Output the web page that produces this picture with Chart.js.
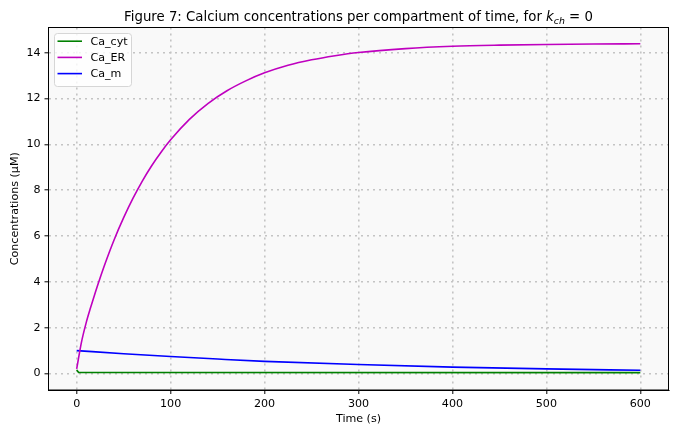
<!DOCTYPE html>
<html>
<head>
<meta charset="utf-8">
<script src="https://cdn.jsdelivr.net/npm/chart.js@4.4.1/dist/chart.umd.min.js"></script>
<style>
  html, body { margin: 0; padding: 0; background: #fff; }
</style>
</head>
<body>
<canvas id="chart" width="679" height="430"></canvas>
<script>
// values
const erTimes = [0, 5, 10, 15, 20, 25, 30, 40, 50, 60, 70, 80, 90, 100, 120, 140, 160, 180, 200, 225, 250, 275, 300, 350, 400, 450, 500, 550, 600];
const caER = [0.2, 1.35, 2.2, 2.9, 3.56, 4.18, 4.77, 5.85, 6.8, 7.65, 8.41, 9.08, 9.67, 10.2, 11.09, 11.79, 12.34, 12.77, 13.12, 13.45, 13.69, 13.87, 14.01, 14.18, 14.28, 14.33, 14.36, 14.38, 14.39];

const mTimes = [0, 50, 100, 150, 200, 300, 400, 500, 600];
const caM = [1.0, 0.86, 0.74, 0.63, 0.53, 0.39, 0.28, 0.2, 0.14];

const cytTimes = [0, 2, 600];
const caCyt = [0.15, 0.05, 0.04];

const xTicks = [0, 100, 200, 300, 400, 500, 600];
const yTicks = [0, 2, 4, 6, 8, 10, 12, 14];

const FONT = "'DejaVu Sans'";

const toPoints = (xs, ys) => xs.map((x, i) => ({x: x, y: ys[i]}));

// plot area background + frame, title with subscript, legend inside the axes
const figurePlugin = {
    id: 'figure',
    beforeDraw(chart) {
        const {ctx, chartArea: a} = chart;
        ctx.save();
        ctx.fillStyle = '#ffffff';
        ctx.fillRect(0, 0, chart.width, chart.height);
        ctx.fillStyle = '#f9f9f9';
        ctx.fillRect(a.left, a.top, a.right - a.left, a.bottom - a.top);
        ctx.restore();
    },
    afterDraw(chart) {
        const {ctx, chartArea: a} = chart;
        ctx.save();

        // frame
        ctx.strokeStyle = '#000';
        ctx.lineWidth = 1;
        ctx.strokeRect(a.left, a.top, a.right - a.left, a.bottom - a.top);

        // title
        const parts = [
            {t: 'Figure 7: Calcium concentrations per compartment of time, for ', f: '13.3px ' + FONT, dy: 0},
            {t: 'k', f: 'italic 13.3px ' + FONT, dy: 0},
            {t: 'ch', f: 'italic 9.4px ' + FONT, dy: 2.5},
            {t: ' = 0', f: '13.3px ' + FONT, dy: 0}
        ];
        let total = 0;
        parts.forEach(p => { ctx.font = p.f; p.w = ctx.measureText(p.t).width; total += p.w; });
        let x = (a.left + a.right) / 2 - total / 2;
        ctx.fillStyle = '#000';
        ctx.textBaseline = 'alphabetic';
        ctx.textAlign = 'left';
        parts.forEach(p => { ctx.font = p.f; ctx.fillText(p.t, x, 21 + p.dy); x += p.w; });

        // legend
        const bx = a.left + 6, by = a.top + 6, bw = 77, bh = 53;
        ctx.beginPath();
        ctx.roundRect(bx, by, bw, bh, 3);
        ctx.fillStyle = 'rgba(255,255,255,0.8)';
        ctx.fill();
        ctx.strokeStyle = '#d6d6d6';
        ctx.lineWidth = 1;
        ctx.stroke();
        ctx.font = '11.1px ' + FONT;
        ctx.textBaseline = 'middle';
        chart.data.datasets.forEach((ds, i) => {
            const cy = by + 7.7 + i * 16.2;
            ctx.strokeStyle = ds.borderColor;
            ctx.lineWidth = 1.6;
            ctx.beginPath();
            ctx.moveTo(bx + 3, cy);
            ctx.lineTo(bx + 27.5, cy);
            ctx.stroke();
            ctx.fillStyle = '#000';
            ctx.fillText(ds.label, bx + 36, cy + 0.5);
        });
        ctx.restore();
    }
};

const ctx = document.getElementById('chart').getContext('2d');
new Chart(ctx, {
    type: 'line',
    data: {
        datasets: [
            {label: 'Ca_cyt', data: toPoints(cytTimes, caCyt), borderColor: '#008000', backgroundColor: '#008000'},
            {label: 'Ca_ER', data: toPoints(erTimes, caER), borderColor: '#bf00bf', backgroundColor: '#bf00bf', cubicInterpolationMode: 'monotone'},
            {label: 'Ca_m', data: toPoints(mTimes, caM), borderColor: '#0000ff', backgroundColor: '#0000ff', cubicInterpolationMode: 'monotone'}
        ]
    },
    options: {
        responsive: false,
        animation: false,
        devicePixelRatio: 1,
        layout: {padding: {top: 27.5, right: 10.5, left: 0, bottom: 0}},
        elements: {
            point: {radius: 0},
            line: {borderWidth: 1.6, fill: false}
        },
        plugins: {
            legend: {display: false},
            title: {display: false},
            tooltip: {enabled: false}
        },
        scales: {
            x: {
                type: 'linear',
                min: -30,
                max: 630,
                afterBuildTicks: s => { s.ticks = xTicks.map(v => ({value: v})); },
                afterFit: s => { s.height = 40; },
                ticks: {color: '#000', font: {family: FONT, size: 11.1}, padding: 3, maxRotation: 0},
                grid: {color: '#c4c4c4', lineWidth: 1.6, tickColor: '#000', tickWidth: 1, tickLength: 4, tickBorderDash: []},
                border: {color: '#000', width: 1, dash: [2, 4]},
                title: {display: true, text: 'Time (s)', color: '#000', font: {family: FONT, size: 11.1}, padding: {top: 2, bottom: 4}}
            },
            y: {
                type: 'linear',
                min: -0.72,
                max: 15.1,
                afterBuildTicks: s => { s.ticks = yTicks.map(v => ({value: v})); },
                afterFit: s => { s.width = 48.5; },
                ticks: {color: '#000', font: {family: FONT, size: 11.1}, padding: 4},
                grid: {color: '#c4c4c4', lineWidth: 1.6, tickColor: '#000', tickWidth: 1, tickLength: 4, tickBorderDash: []},
                border: {color: '#000', width: 1, dash: [2, 4]},
                title: {display: true, text: 'Concentrations (μM)', color: '#000', font: {family: FONT, size: 11.1}, padding: {top: 8, bottom: 0}}
            }
        }
    },
    plugins: [figurePlugin]
});
</script>
</body>
</html>
